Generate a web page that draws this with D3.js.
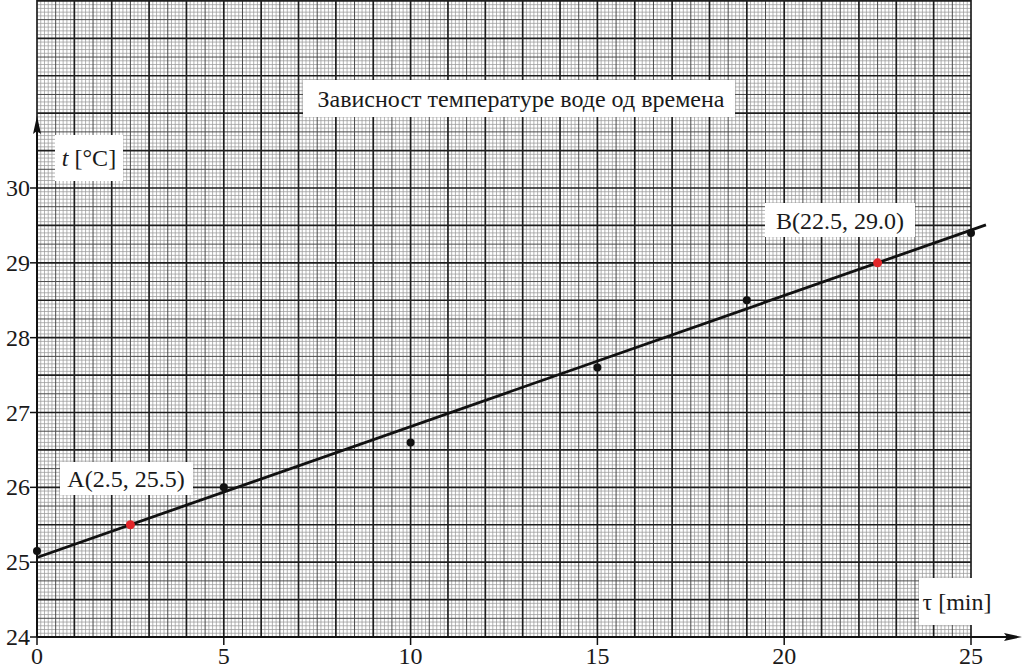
<!DOCTYPE html>
<html>
<head>
<meta charset="utf-8">
<script src="https://cdn.jsdelivr.net/npm/d3@7"></script>
<style>
html,body{margin:0;padding:0;background:#fff;}
svg{display:block;}
</style>
</head>
<body>
<svg id="chart" width="1024" height="669"></svg>
<script>
// ---- data ----
const timeValues = [0, 5, 10, 15, 19, 25];
const tempValues = [25.15, 26.0, 26.6, 27.6, 28.5, 29.4];
const pointA = {label: "A(2.5, 25.5)", t: 2.5, temp: 25.5};
const pointB = {label: "B(22.5, 29.0)", t: 22.5, temp: 29.0};
const fitLine = {tStart: 0, tEnd: 25.4};
const xTicks = [0, 5, 10, 15, 20, 25];
const yTicks = [24, 25, 26, 27, 28, 29, 30];
const title = "Зависност температуре воде од времена";
const xLabel = "τ [min]";

const FONT = "'Liberation Serif', 'Times New Roman', serif";
const svg = d3.select("#chart");
const x = d3.scaleLinear().domain([0, 25]).range([37, 971]);
const y = d3.scaleLinear().domain([24, 30]).range([637, 188]);
const yTop = y.invert(0);

// ---- graph paper ----
const grid = svg.append("g");
const eps = 1e-6;
const fineX = d3.range(0, 25 + eps, 0.1);
const fineY = d3.range(24, yTop + eps, 0.05);
function kindX(v){ const r = Math.round(v*10); return r%10===0?2:(r%5===0?1:0); }
function kindY(v){ const r = Math.round((v-24)*20); return r%10===0?2:(r%5===0?1:0); }
const styles = [
  {stroke:"#9a9a9a", w:0.75},
  {stroke:"#4a4a4a", w:1},
  {stroke:"#1e1e1e", w:1.7}
];
[0,1,2].forEach(k=>{
  grid.selectAll(null).data(fineX.filter(v=>kindX(v)===k)).enter().append("line")
    .attr("x1", d=>x(d)).attr("x2", d=>x(d)).attr("y1", 0).attr("y2", y(24))
    .attr("stroke", styles[k].stroke).attr("stroke-width", styles[k].w);
  grid.selectAll(null).data(fineY.filter(v=>kindY(v)===k)).enter().append("line")
    .attr("x1", x(0)).attr("x2", x(25)).attr("y1", d=>y(d)).attr("y2", d=>y(d))
    .attr("stroke", styles[k].stroke).attr("stroke-width", styles[k].w);
});

// ---- axes ----
const ax = svg.append("g");
ax.append("line").attr("x1", x(0)).attr("x2", 1008).attr("y1", y(24)).attr("y2", y(24))
  .attr("stroke", "#111").attr("stroke-width", 2);
ax.append("path").attr("d", `M1022,${y(24)} L1004,${y(24)-4} L1007,${y(24)} L1004,${y(24)+4} Z`).attr("fill", "#111");
ax.append("line").attr("x1", x(0)).attr("x2", x(0)).attr("y1", y(24)).attr("y2", 130)
  .attr("stroke", "#111").attr("stroke-width", 2);
ax.append("path").attr("d", `M${x(0)},116 L${x(0)-4},134 L${x(0)},131 L${x(0)+4},134 Z`).attr("fill", "#111");

ax.selectAll(".xt").data(xTicks).enter().append("line")
  .attr("x1", d=>x(d)).attr("x2", d=>x(d)).attr("y1", y(24)).attr("y2", y(24)+8)
  .attr("stroke", "#111").attr("stroke-width", 1.5);
ax.selectAll(".yt").data(yTicks).enter().append("line")
  .attr("x1", x(0)-7).attr("x2", x(0)).attr("y1", d=>y(d)).attr("y2", d=>y(d))
  .attr("stroke", "#111").attr("stroke-width", 1.5);
ax.selectAll(".xl").data(xTicks).enter().append("text")
  .attr("x", d=>x(d)).attr("y", 664).attr("text-anchor", "middle")
  .attr("font-family", FONT).attr("fill", "#1a1a1a")
  .attr("font-size", 24).text(d=>d);
ax.selectAll(".yl").data(yTicks).enter().append("text")
  .attr("x", 30).attr("y", d=>y(d)+8).attr("text-anchor", "end")
  .attr("font-family", FONT).attr("fill", "#1a1a1a")
  .attr("font-size", 24).text(d=>d);

// ---- fit line ----
const slope = (pointB.temp - pointA.temp)/(pointB.t - pointA.t);
const fit = t => pointA.temp + slope*(t - pointA.t);
svg.append("line")
  .attr("x1", x(fitLine.tStart)).attr("y1", y(fit(fitLine.tStart)))
  .attr("x2", x(fitLine.tEnd)).attr("y2", y(fit(fitLine.tEnd)))
  .attr("stroke", "#111").attr("stroke-width", 2.8);

// ---- data points ----
svg.selectAll(".pt").data(timeValues.map((t,i)=>({t, v:tempValues[i]}))).enter().append("circle")
  .attr("cx", d=>x(d.t)).attr("cy", d=>y(d.v)).attr("r", 4).attr("fill", "#111");
svg.selectAll(".ab").data([pointA, pointB]).enter().append("circle")
  .attr("cx", d=>x(d.t)).attr("cy", d=>y(d.temp)).attr("r", 4.5).attr("fill", "#e3262a");

// ---- labelled boxes ----
function box(x0, y0, w, h, build){
  const g = svg.append("g");
  g.append("rect").attr("x", x0).attr("y", y0).attr("width", w).attr("height", h).attr("fill", "#fff");
  const t = g.append("text").attr("font-size", 24).attr("font-family", FONT).attr("fill", "#1a1a1a");
  build(t);
}
box(303, 80, 432, 37, t=>t.attr("x", 521).attr("y", 107).attr("text-anchor","middle").text(title));
box(55, 135, 68, 46, t=>{
  t.attr("x", 89).attr("y", 166).attr("text-anchor","middle");
  t.append("tspan").attr("font-style","italic").text("t");
  t.append("tspan").text(" [°C]");
});
box(60, 462, 133, 33, t=>t.attr("x", 126).attr("y", 487).attr("text-anchor","middle").text(pointA.label));
box(765, 203, 150, 34, t=>t.attr("x", 840).attr("y", 229).attr("text-anchor","middle").text(pointB.label));
box(919, 578, 77, 47, t=>t.attr("x", 957).attr("y", 610).attr("text-anchor","middle").text(xLabel));
</script>
</body>
</html>
